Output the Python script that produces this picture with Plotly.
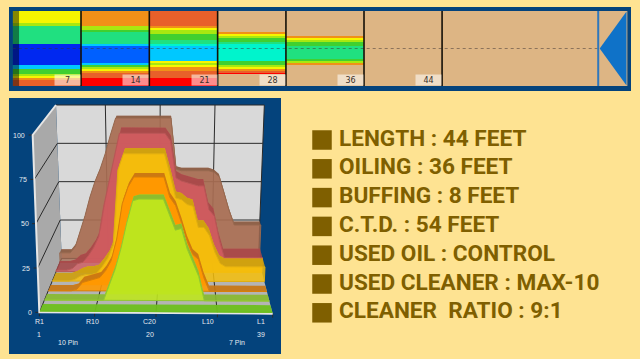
import plotly.graph_objects as go

# ---------- lane strip data ----------
segment_edges_ft = [0, 7, 14, 21, 28, 36, 44, 60, 63]
marker_feet = [7, 14, 21, 28, 36, 44]
lane_levels_0_7 = [4,4,4,4,4,4,5,5,7,7,7,7,7,7,7,7,7,11,11,11,11,11,11,11,11,11,11,11,9,9,6,6,6,5,4,3,2,2,2]
lane_levels_7_14 = [3,3,3,3,3,3,3,3,5,5,6,7,7,7,7,7,7,9,10,10,10,10,10,10,10,10,10,9,6,5,4,3,2,2,2,1,1,1,1]
lane_levels_14_21 = [2,2,2,2,2,2,2,2,3,4,5,5,6,6,6,7,7,8,9,9,9,9,9,9,9,9,4,5,4,3,3,2,2,2,2,1,1,1,1]
lane_levels_21_28 = [0,0,0,0,0,0,0,0,0,0,0,3,4,5,6,6,7,8,8,8,8,8,8,8,8,8,6,6,5,4,3,2,1,0,0,0,0,0,0]
lane_levels_28_36 = [0,0,0,0,0,0,0,0,0,0,0,0,0,3,4,5,6,6,7,7,7,7,7,7,7,6,5,3,0,0,0,0,0,0,0,0,0,0,0]
lane_levels_36_44 = [0] * 39
lane_levels_44_60 = [0] * 39
lane_levels_60_63 = [0] * 39
level_colors = ["#DDB584", "#FF0000", "#E8602A", "#F09018", "#F6F600", "#A8E810",
                "#40D030", "#20E080", "#00F4CC", "#00C8FF", "#0060FF", "#0028F0"]

# ---------- 3D profile data (percent of oil per board) ----------
boards = list(range(1, 40))
profile_brown = [6,6,6,10,20,30,42,52,60,70,82,93,93,93,93,93,93,93,93,93,93,93,60,59,59,59,59,59,59,58,55,44,33,24,24,24,24,24,24]
profile_red = [1,1,1,2,5,6,10,15,22,41,56,70,87,87,87,87,87,87,87,87,87,82,59,57,56,55,54,54,39,35,20,9,9,9,9,9,9,9,9]
profile_yellow = [0,0,0,0,1,3,4,4,5,9,14,22,68,78,78,78,78,78,78,78,78,65,51,50,47,46,33,33,28,18,11,9,9,9,9,9,9,9,9]
profile_orange = [0,0,0,0,0,1,5,6,7,8,12,18,31,52,62,68,68,68,68,68,68,56,51,41,30,22,19,8,0,0,0,0,0,0,0,0,0,0,0]
profile_lime = [0,0,0,0,0,0,0,0,0,0,0,9,18,30,45,58,59,59,59,59,59,50,41,42,30,22,14,0,0,0,0,0,0,0,0,0,0,0,0]
profile_green = [0] * 39
percent_ticks = [0, 25, 50, 75, 100]
board_ticks = [1, 10, 20, 30, 39]
spec_items = ["LENGTH : 44 FEET", "OILING : 36 FEET", "BUFFING : 8 FEET", "C.T.D. : 54 FEET",
              "USED OIL : CONTROL", "USED CLEANER : MAX-10", "CLEANER  RATIO : 9:1"]

NAVY = "#04437C"
CREAM = "#FEE392"
W, H = 640, 359


def project(board, value, depth):
    """Perspective of (board, percent, depth 0=front 1=back) into panel units."""
    f = (board - 1) / 38
    v = value / 100
    left = (118 - 20 * v) * (1 - depth) + (185 - 17 * v) * depth
    right = (818 + 24 * v) * (1 - depth) + (775 + 18 * v) * depth
    y = (652 + 4 * f - 532 * v) * (1 - depth) + (490 - 460 * v) * depth
    return left + (right - left) * f, y


def polygon(points):
    xs, ys = zip(*points)
    return list(xs) + [xs[0]], list(ys) + [ys[0]]


fig = go.Figure()

# ---------- strip ----------
columns = [lane_levels_0_7, lane_levels_7_14, lane_levels_14_21, lane_levels_21_28,
           lane_levels_28_36, lane_levels_36_44, lane_levels_44_60, lane_levels_60_63]
z = [[col[r] for col in columns] for r in range(39)]
n = len(level_colors)
scale = []
for i, c in enumerate(level_colors):
    scale += [[i / n, c], [(i + 1) / n, c]]
fig.add_trace(go.Heatmap(x=segment_edges_ft, y=[i + 0.5 for i in range(40)], z=z, zmin=0, zmax=n - 0.0001,
                         colorscale=scale, showscale=False, hoverinfo="skip", xaxis="x", yaxis="y"))
fig.add_trace(go.Scatter(x=[0, 0.65, 0.65, 0, 0], y=[0.5, 0.5, 39.5, 39.5, 0.5], mode="lines", line=dict(width=0),
                         fill="toself", fillcolor="rgba(0,0,0,0.45)", xaxis="x", yaxis="y", showlegend=False))
fig.add_trace(go.Scatter(x=[0, 60], y=[20, 20], mode="lines", line=dict(color="rgba(60,50,50,0.5)", width=1, dash="dot"),
                         xaxis="x", yaxis="y", showlegend=False))
vx, vy = [], []
for f in marker_feet:
    vx += [f, f, None]
    vy += [0.5, 39.5, None]
fig.add_trace(go.Scatter(x=vx, y=vy, mode="lines", line=dict(color="#141008", width=1.6),
                         xaxis="x", yaxis="y", showlegend=False))
fig.add_trace(go.Scatter(x=[60, 60], y=[0.5, 39.5], mode="lines", line=dict(color="#2E77BC", width=2),
                         xaxis="x", yaxis="y", showlegend=False))
fig.add_trace(go.Scatter(x=[60.15, 62.9, 62.9, 60.15], y=[20, 0.7, 39.3, 20], mode="lines", line=dict(width=0),
                         fill="toself", fillcolor="#0F72C8", xaxis="x", yaxis="y", showlegend=False))

annotations = []
for f in marker_feet:
    annotations.append(dict(x=f, y=39.5, xref="x", yref="y", xanchor="right", yanchor="bottom", text=str(f),
                            showarrow=False, width=25, height=10, align="center", borderpad=0,
                            bgcolor="rgba(255,255,255,0.55)",
                            font=dict(family="DejaVu Sans", size=8, color="#3A3028")))

# ---------- 3D walls ----------
def add_poly(points, color, line=None, width=0):
    xs, ys = polygon(points)
    fig.add_trace(go.Scatter(x=xs, y=ys, mode="lines", fill="toself", fillcolor=color,
                             line=dict(color=line or color, width=width), xaxis="x2", yaxis="y2",
                             showlegend=False, hoverinfo="skip"))


add_poly([project(1, 0, 1), project(39, 0, 1), project(39, 100, 1), project(1, 100, 1)], "#D9D9D9")
add_poly([project(1, 0, 0), project(1, 0, 1), project(1, 100, 1), project(1, 100, 0)], "#A9A9A9")
add_poly([project(1, 0, 0), project(39, 0, 0), project(39, 0, 1), project(1, 0, 1)], "#B4B4B4")

gx, gy = [], []
for p in percent_ticks:
    for a, b in [(project(1, p, 0), project(1, p, 1)), (project(1, p, 1), project(39, p, 1))]:
        gx += [a[0], b[0], None]
        gy += [a[1], b[1], None]
for b_ in board_ticks[1:4]:
    for a, b in [(project(b_, 0, 0), project(b_, 0, 1)), (project(b_, 0, 1), project(b_, 100, 1))]:
        gx += [a[0], b[0], None]
        gy += [a[1], b[1], None]
for b_ in board_ticks:
    a = project(b_, 0, 0)
    gx += [a[0], a[0], None]
    gy += [a[1], a[1] + 12, None]
for p in percent_ticks:
    a = project(1, p, 0)
    gx += [a[0] - 12, a[0], None]
    gy += [a[1], a[1], None]
fig.add_trace(go.Scatter(x=gx, y=gy, mode="lines", line=dict(color="#2A2A2A", width=1), xaxis="x2", yaxis="y2",
                         showlegend=False, hoverinfo="skip"))
edge = [project(1, 100, 1), project(1, 100, 0), project(1, 0, 0), project(39, 0, 0)]
fig.add_trace(go.Scatter(x=[p[0] for p in edge], y=[p[1] for p in edge], mode="lines",
                         line=dict(color="#E6E6E6", width=2), xaxis="x2", yaxis="y2",
                         showlegend=False, hoverinfo="skip"))
edge = [project(39, 100, 1), project(39, 0, 1)]
fig.add_trace(go.Scatter(x=[p[0] for p in edge], y=[p[1] for p in edge], mode="lines",
                         line=dict(color="#2A2A2A", width=1), xaxis="x2", yaxis="y2",
                         showlegend=False, hoverinfo="skip"))

# ---------- 3D layers, back to front ----------
layers = [
    (profile_brown, 0.93, 1.00, "rgba(168,108,82,0.72)", "rgba(138,90,66,0.85)", "#96684E"),
    (profile_red, 0.753, 0.92, "rgba(208,90,95,0.78)", "rgba(165,72,72,0.88)", "#B85656"),
    (profile_yellow, 0.58, 0.735, "rgba(245,190,10,0.85)", "rgba(205,160,15,0.92)", "#E0AE10"),
    (profile_orange, 0.40, 0.506, "rgba(255,152,0,0.9)", "rgba(200,118,20,0.92)", "#D87F08"),
    (profile_lime, 0.228, 0.34, "rgba(190,228,30,0.9)", "rgba(136,186,48,0.92)", "#90C830"),
    (profile_green, 0.025, 0.154, "rgba(110,192,30,0.95)", "rgba(110,192,30,0.95)", "#6EC01E"),
]
for values, front, back, face, top, line in layers:
    back_prof = [project(b, v, back) for b, v in zip(boards, values)]
    front_prof = [project(b, v, front) for b, v in zip(boards, values)]
    back_floor = [project(b, 0, back) for b in boards]
    front_floor = [project(b, 0, front) for b in boards]
    add_poly(back_prof + back_floor[::-1], face)
    add_poly(back_prof + front_prof[::-1], top)
    add_poly(front_prof + front_floor[::-1], face, line=line, width=1)

# ---------- 3D labels ----------
tick_font = dict(family="Liberation Sans", size=7, color="#E4EAF0")
for p in percent_ticks:
    px, py = project(1, p, 0)
    annotations.append(dict(x=px - 16, y=py, xref="x2", yref="y2", xanchor="right", yanchor="middle",
                            text=str(p), showarrow=False, font=tick_font))
bottom_labels = ["R1", "R10", "C20", "L10", "L1", "1", "20", "39", "10 Pin", "7 Pin"]
bottom_x = [118, 276, 447, 623, 782, 118, 450, 782, 205, 710]
bottom_y = [678, 678, 678, 678, 680, 717, 717, 718, 741, 741]
for t, bx, by in zip(bottom_labels, bottom_x, bottom_y):
    annotations.append(dict(x=bx, y=by, xref="x2", yref="y2", xanchor="center", yanchor="middle",
                            text=t, showarrow=False, font=tick_font))

# ---------- spec list ----------
rows = list(range(len(spec_items)))
fig.add_trace(go.Scatter(x=[322] * len(rows), y=rows, mode="markers",
                         marker=dict(symbol="square", size=19.5, color="#7F5F00", line=dict(width=0)),
                         xaxis="x3", yaxis="y3", showlegend=False))
fig.add_trace(go.Scatter(x=[339] * len(rows), y=rows, mode="text", text=spec_items, textposition="middle right",
                         textfont=dict(family="Roboto", size=22.6, color="#7F5F00", weight="bold"),
                         xaxis="x3", yaxis="y3", showlegend=False))

hidden = dict(visible=False, fixedrange=True)
shapes = [
    dict(type="rect", xref="paper", yref="paper", x0=9 / W, x1=631 / W, y0=1 - 91 / H, y1=1 - 7 / H,
         fillcolor=NAVY, line=dict(width=0), layer="below"),
    dict(type="rect", xref="paper", yref="paper", x0=9 / W, x1=281 / W, y0=1 - 354 / H, y1=1 - 98 / H,
         fillcolor=NAVY, line=dict(width=0), layer="below"),
]
fig.update_layout(
    width=W, height=H, autosize=False, margin=dict(l=0, r=0, t=0, b=0),
    paper_bgcolor=CREAM, plot_bgcolor="rgba(0,0,0,0)", showlegend=False, shapes=shapes, annotations=annotations,
    xaxis=dict(domain=[12.7 / W, 627.5 / W], range=[0, 63], **hidden),
    yaxis=dict(domain=[1 - 86 / H, 1 - 11 / H], range=[39.5, 0.5], **hidden),
    xaxis2=dict(domain=[9 / W, 281 / W], range=[27, 843], **hidden),
    yaxis2=dict(domain=[1 - 354 / H, 1 - 98 / H], range=[777, 9], **hidden),
    xaxis3=dict(domain=[0, 1], range=[0, W], **hidden),
    yaxis3=dict(domain=[0, 1], range=[(359 - 140) / 28.8, -140 / 28.8], **hidden),
)
fig.write_html("out.html", config=dict(displayModeBar=False),
               post_script="document.body.style.margin='0';document.body.style.background='#FEE392';")
